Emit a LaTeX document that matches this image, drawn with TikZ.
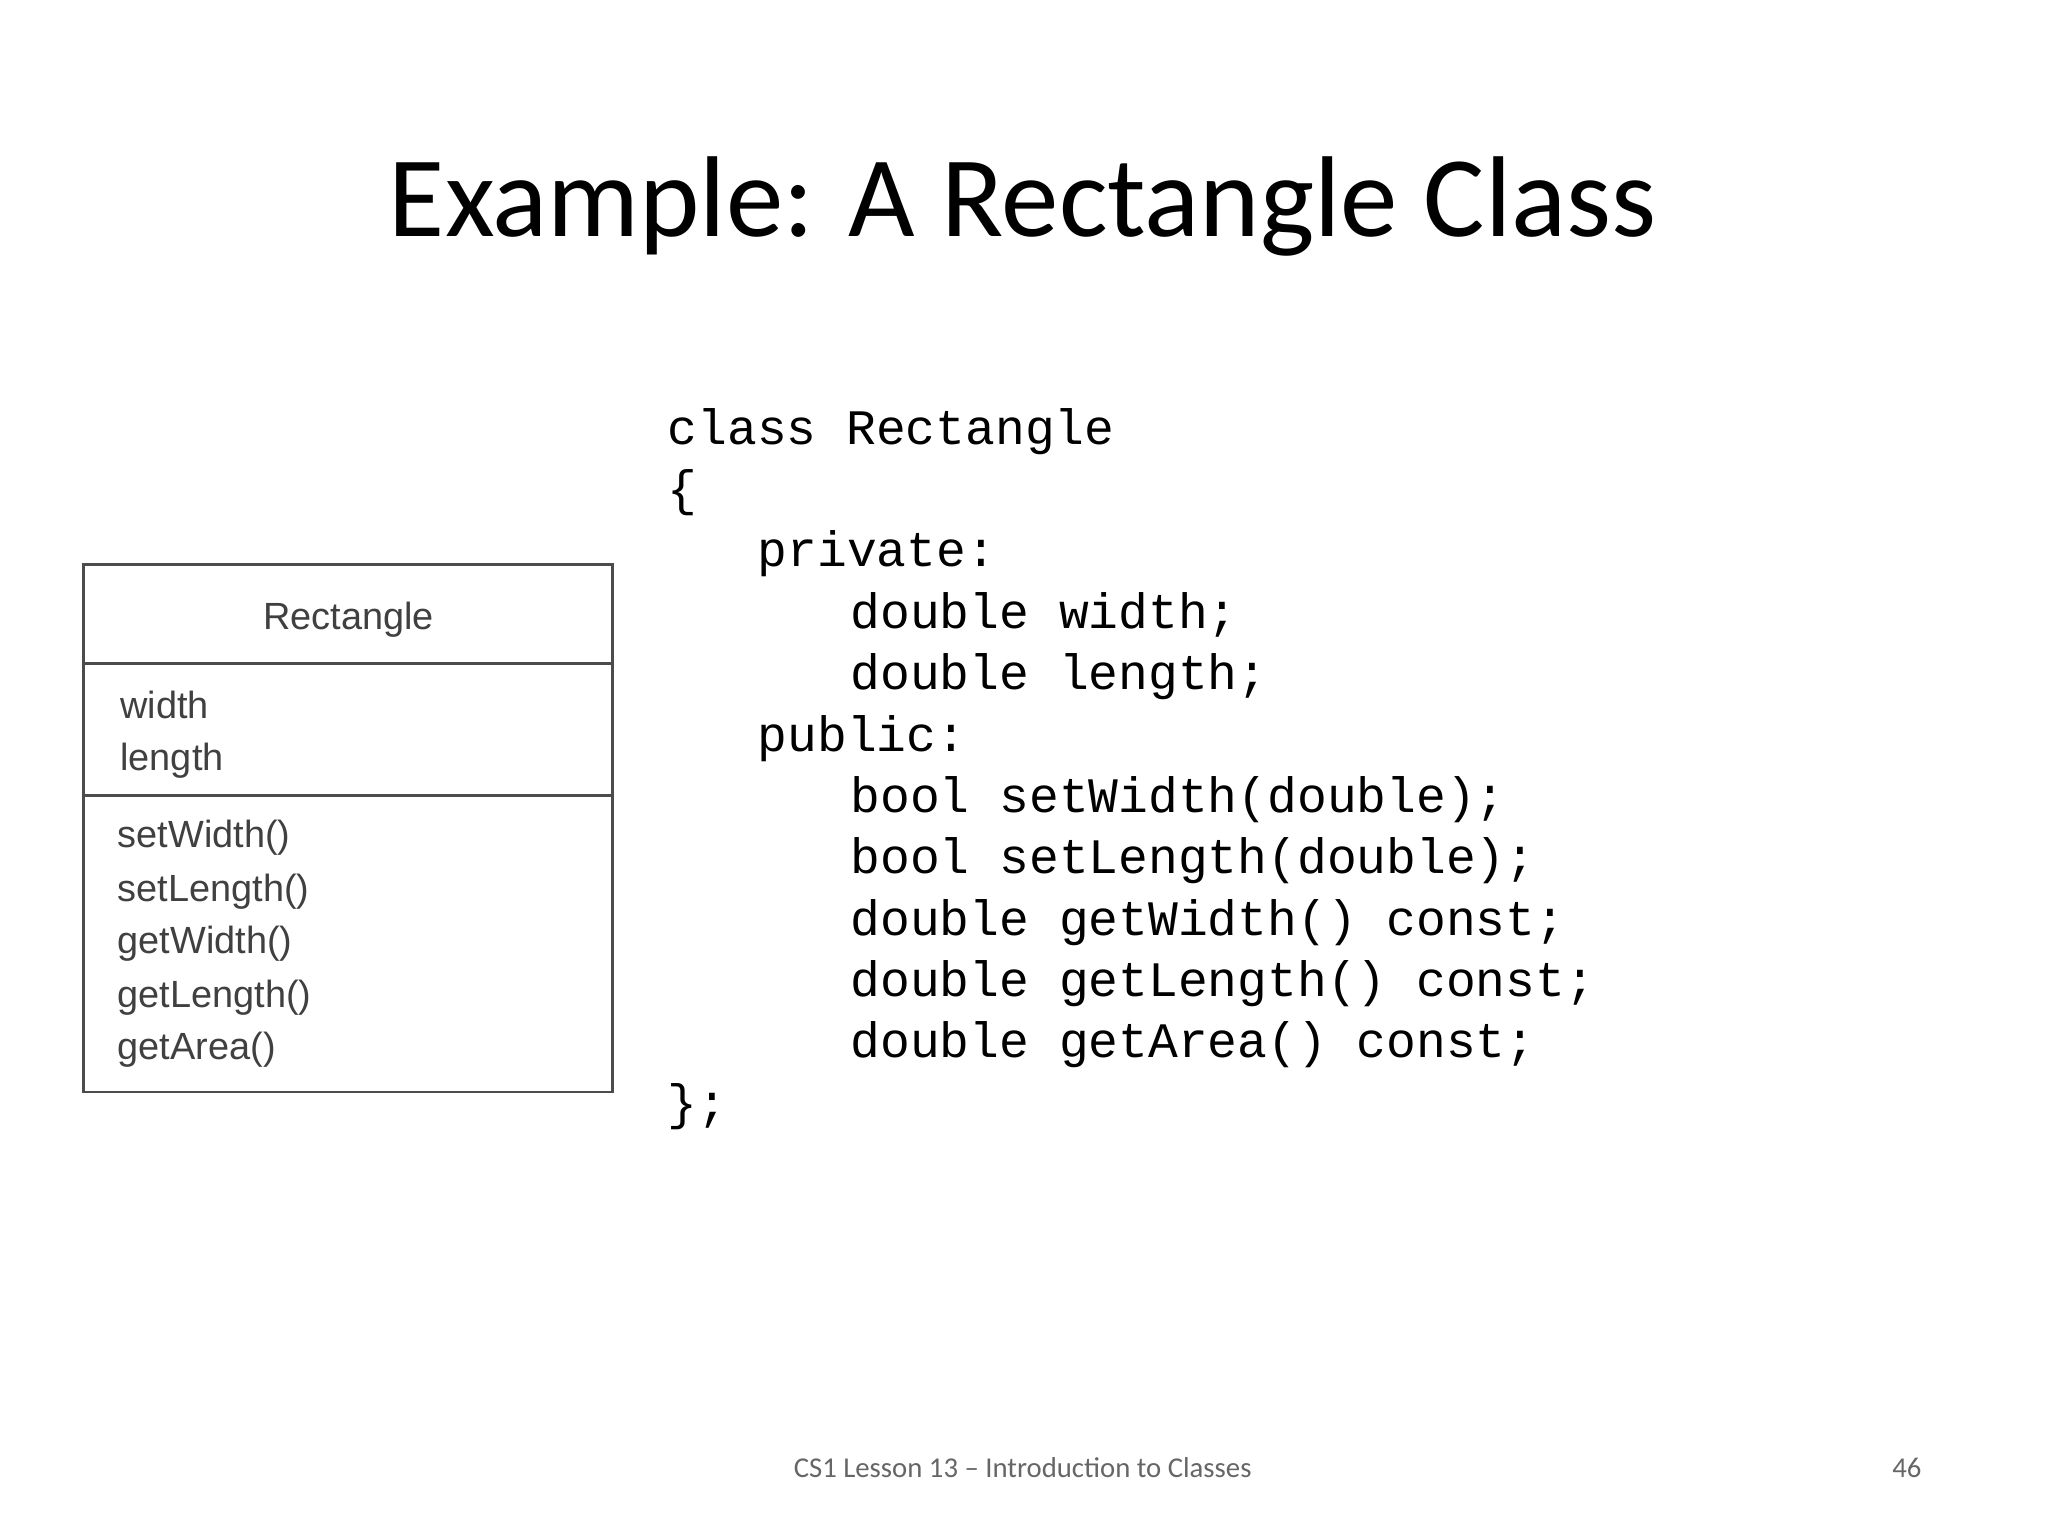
\documentclass[tikz,border=0pt]{standalone}
\usepackage{fontspec}
\setmainfont{Carlito}
\newfontfamily\codefont{Liberation Mono}
\newfontfamily\umlfont{Liberation Sans}
\begin{document}
\begin{tikzpicture}[x=1pt,y=-1pt,
  code/.style={anchor=base west,inner sep=0pt,font=\codefont\fontsize{38}{46}\selectfont},
  uml/.style={anchor=base west,inner sep=0pt,text=black!75,font=\umlfont\fontsize{29}{35}\selectfont},
  box/.style={draw=black!70,line width=2.2pt}]
\useasboundingbox (0,0) rectangle (1568,1176);
\node[anchor=base,inner sep=0pt,font=\fontsize{88}{100}\selectfont] (title) at (783,181) {Example: A Rectangle Class};
\draw[box] (64,432) rectangle (469,836);
\coordinate (d1l) at (64,508); \coordinate (d1r) at (469,508);
\coordinate (d2l) at (64,609); \coordinate (d2r) at (469,609);
\draw[box] (d1l) -- (d1r);
\draw[box] (d2l) -- (d2r);
\node[uml,anchor=base] (cn) at (267,482) {Rectangle};
\node[uml] (a1) at (92,550) {width};
\node[uml] (a2) at (92,590) {length};
\node[uml] (m1) at (90,649) {setWidth()};
\node[uml] (m2) at (90,690) {setLength()};
\node[uml] (m3) at (90,730) {getWidth()};
\node[uml] (m4) at (90,771) {getLength()};
\node[uml] (m5) at (90,811) {getArea()};
\node[code] (c1) at (511,340) {class Rectangle};
\node[code] (c2) at (511,387) {\{};
\node[code] (c3) at (580,434) {private:};
\node[code] (c4) at (651,481) {double width;};
\node[code] (c5) at (651,528) {double length;};
\node[code] (c6) at (580,575) {public:};
\node[code] (c7) at (651,622) {bool setWidth(double);};
\node[code] (c8) at (651,669) {bool setLength(double);};
\node[code] (c9) at (651,716) {double getWidth() const;};
\node[code] (c10) at (651,763) {double getLength() const;};
\node[code] (c11) at (651,810) {double getArea() const;};
\node[code] (c12) at (511,857) {\};};
\node[anchor=base,inner sep=0pt,text=black!60,font=\fontsize{22}{26}\selectfont] (foot) at (783,1131) {CS1 Lesson 13 -- Introduction to Classes};
\node[anchor=base,inner sep=0pt,text=black!60,font=\fontsize{22}{26}\selectfont] (pg) at (1460,1131) {46};
\end{tikzpicture}
\end{document}
